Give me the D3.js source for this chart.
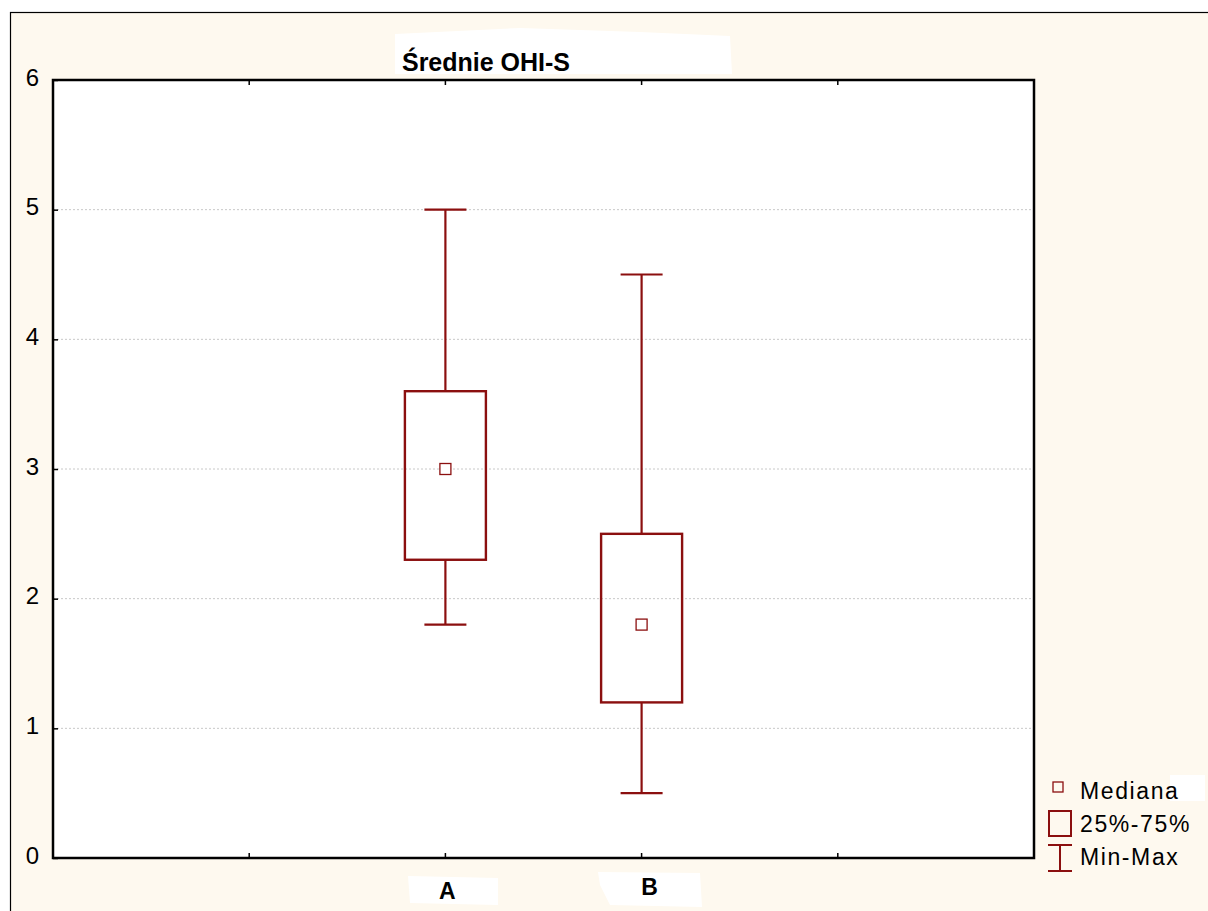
<!DOCTYPE html>
<html>
<head>
<meta charset="utf-8">
<script src="https://cdn.jsdelivr.net/npm/d3@7"></script>
<style>
  body { margin: 0; background: #fff; }
  text { font-family: "Liberation Sans", Arial, sans-serif; }
</style>
</head>
<body>
<div id="graph"></div>
<script>
const width = 1208;
const height = 911;

// data
const groups = ["A", "B"];
const mins = [1.8, 0.5];
const q1s = [2.3, 1.2];
const medians = [3.0, 1.8];
const q3s = [3.6, 2.5];
const maxs = [5.0, 4.5];
const yTicks = [0, 1, 2, 3, 4, 5, 6];
const legendLabels = ["Mediana", "25%-75%", "Min-Max"];

const red = "#8b0f0f";

const svg = d3.select("#graph")
  .append("svg")
  .attr("width", width)
  .attr("height", height);

// cream page with frame on top/left
svg.append("rect")
  .attr("x", 10.5).attr("y", 12.5)
  .attr("width", width).attr("height", height)
  .attr("fill", "#fef9ef")
  .attr("stroke", "#000")
  .attr("stroke-width", 1.2);

// little white smudges from the original scan
svg.append("path")
  .attr("d", "M395,34 L520,28 L640,32 L730,36 L732,74 L395,74 Z")
  .attr("fill", "#fff");
svg.append("path").attr("d", "M408,876 L498,878 L498,905 L410,903 Z").attr("fill", "#fff");
svg.append("path").attr("d", "M598,872 L700,873 L702,907 L610,905 L600,885 Z").attr("fill", "#fff");
svg.append("rect").attr("x", 1170).attr("y", 775).attr("width", 35).attr("height", 26).attr("fill", "#fff");

const pLeft = 53, pRight = 1034, pTop = 80, pBottom = 858;

const x = d3.scaleLinear().domain([0, 5]).range([pLeft, pRight]);
const y = d3.scaleLinear().domain([0, 6]).range([pBottom, pTop]);

// plot area
svg.append("rect")
  .attr("x", pLeft).attr("y", pTop)
  .attr("width", pRight - pLeft).attr("height", pBottom - pTop)
  .attr("fill", "#fff");

// gridlines
svg.selectAll(".grid")
  .data(yTicks.filter(d => d > 0 && d < 6))
  .enter().append("line")
  .attr("x1", pLeft).attr("x2", pRight)
  .attr("y1", d => y(d)).attr("y2", d => y(d))
  .attr("stroke", "#c8c8c8")
  .attr("stroke-dasharray", "2,2");

// y axis labels + ticks
const yAxis = d3.axisLeft(y).tickValues(yTicks).tickSize(-5).tickPadding(14).tickFormat(d3.format("d"));
const gy = svg.append("g").attr("transform", `translate(${pLeft},0)`).call(yAxis);
gy.select(".domain").remove();
gy.selectAll("text")
  .attr("font-size", 24)
  .attr("fill", "#000")
  .attr("font-family", "Liberation Sans, Arial")
  .attr("dy", "0.22em");
gy.selectAll("line").attr("stroke", "#000").attr("stroke-width", 1.5);

// x ticks (top and bottom, inward)
const xTickVals = [1, 2, 3, 4];
svg.selectAll(".xtb").data(xTickVals).enter().append("line")
  .attr("x1", d => x(d)).attr("x2", d => x(d))
  .attr("y1", pBottom).attr("y2", pBottom - 5)
  .attr("stroke", "#000").attr("stroke-width", 1.5);
svg.selectAll(".xtt").data(xTickVals).enter().append("line")
  .attr("x1", d => x(d)).attr("x2", d => x(d))
  .attr("y1", pTop).attr("y2", pTop + 5)
  .attr("stroke", "#000").attr("stroke-width", 1.5);

// plot frame
svg.append("rect")
  .attr("x", pLeft).attr("y", pTop)
  .attr("width", pRight - pLeft).attr("height", pBottom - pTop)
  .attr("fill", "none")
  .attr("stroke", "#000")
  .attr("stroke-width", 2.5);

// x labels
svg.selectAll(".xl").data(groups).enter().append("text")
  .attr("x", (d, i) => x(i + 2) + (i == 0 ? 2 : 8))
  .attr("y", (d, i) => i == 0 ? 899 : 895)
  .attr("text-anchor", "middle")
  .attr("font-size", 23)
  .attr("font-weight", "bold")
  .text(d => d);

// title
svg.append("text")
  .attr("x", 486).attr("y", 71)
  .attr("text-anchor", "middle")
  .attr("font-size", 25)
  .attr("font-weight", "bold")
  .text("Średnie OHI-S");

// boxes
const boxW = 81, capW = 42, medS = 11;
groups.forEach((g, i) => {
  const cx = x(i + 2);
  const gBox = svg.append("g");
  // whiskers
  gBox.append("line").attr("x1", cx).attr("x2", cx).attr("y1", y(maxs[i])).attr("y2", y(q3s[i]))
    .attr("stroke", red).attr("stroke-width", 2.2);
  gBox.append("line").attr("x1", cx).attr("x2", cx).attr("y1", y(q1s[i])).attr("y2", y(mins[i]))
    .attr("stroke", red).attr("stroke-width", 2.2);
  [maxs[i], mins[i]].forEach(v => {
    gBox.append("line").attr("x1", cx - capW / 2).attr("x2", cx + capW / 2)
      .attr("y1", y(v)).attr("y2", y(v))
      .attr("stroke", red).attr("stroke-width", 2.2);
  });
  gBox.append("rect")
    .attr("x", cx - boxW / 2).attr("y", y(q3s[i]))
    .attr("width", boxW).attr("height", y(q1s[i]) - y(q3s[i]))
    .attr("fill", "none").attr("stroke", red).attr("stroke-width", 2.4);
  gBox.append("rect")
    .attr("x", cx - medS / 2).attr("y", y(medians[i]) - medS / 2)
    .attr("width", medS).attr("height", medS)
    .attr("fill", "#fff").attr("stroke", red).attr("stroke-width", 1.3);
});

// legend
const lg = svg.append("g");
lg.append("rect").attr("x", 1053).attr("y", 782).attr("width", 10).attr("height", 10)
  .attr("fill", "none").attr("stroke", red).attr("stroke-width", 1.3);
lg.append("rect").attr("x", 1049).attr("y", 811).attr("width", 22).attr("height", 25)
  .attr("fill", "none").attr("stroke", red).attr("stroke-width", 2);
lg.append("line").attr("x1", 1048).attr("x2", 1072).attr("y1", 845).attr("y2", 845).attr("stroke", red).attr("stroke-width", 2);
lg.append("line").attr("x1", 1048).attr("x2", 1072).attr("y1", 871).attr("y2", 871).attr("stroke", red).attr("stroke-width", 2);
lg.append("line").attr("x1", 1060).attr("x2", 1060).attr("y1", 845).attr("y2", 871).attr("stroke", red).attr("stroke-width", 2);

const legendY = [799, 832, 865];
lg.selectAll(".lt").data(legendLabels).enter().append("text")
  .attr("x", 1080)
  .attr("y", (d, i) => legendY[i])
  .attr("font-size", 23)
  .attr("letter-spacing", "1.6px")
  .text(d => d);
</script>
</body>
</html>
